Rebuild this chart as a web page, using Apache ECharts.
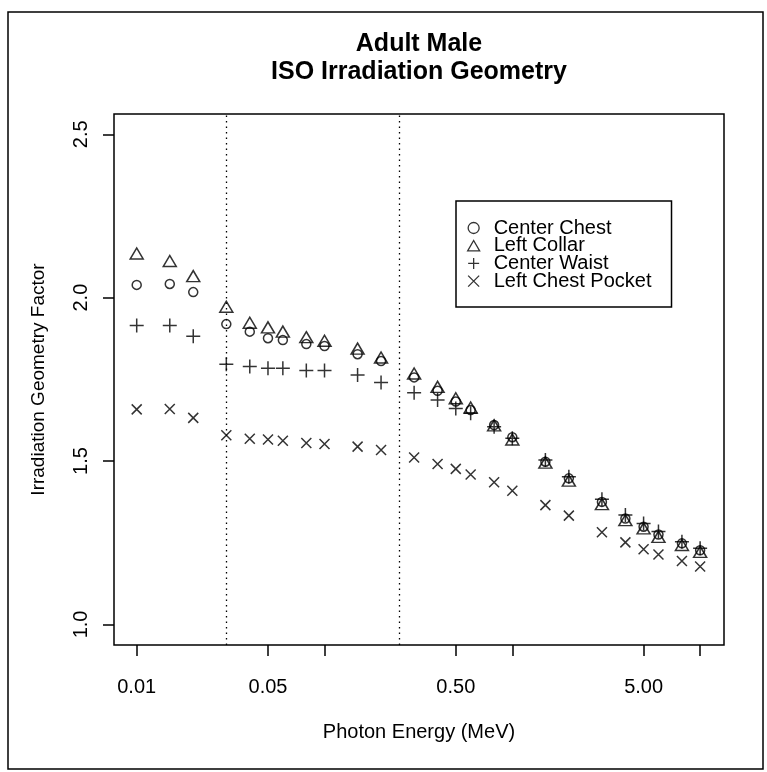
<!DOCTYPE html>
<html>
<head>
<meta charset="utf-8">
<script src="https://cdn.jsdelivr.net/npm/echarts@6/dist/echarts.min.js"></script>
<style>
  html, body { margin: 0; padding: 0; background: #fff; }
  #chart { width: 767px; height: 772px; }
</style>
</head>
<body>
<div id="chart"></div>
<script>
// Photon energies (MeV) and irradiation geometry factors per dosimeter location
const energy = [0.01, 0.015, 0.02, 0.03, 0.04, 0.05, 0.06, 0.08, 0.1, 0.15, 0.2, 0.3, 0.4,
                0.5, 0.6, 0.8, 1, 1.5, 2, 3, 4, 5, 6, 8, 10];
const centerChest = [2.039, 2.042, 2.017, 1.919, 1.896, 1.876, 1.870, 1.858, 1.852, 1.827, 1.806,
                     1.756, 1.715, 1.682, 1.656, 1.610, 1.573, 1.498, 1.447, 1.375, 1.324, 1.299,
                     1.275, 1.248, 1.227];
const leftCollar = [2.135, 2.112, 2.066, 1.972, 1.923, 1.909, 1.896, 1.879, 1.868, 1.844, 1.817,
                    1.768, 1.727, 1.692, 1.664, 1.609, 1.566, 1.495, 1.440, 1.368, 1.319, 1.294,
                    1.268, 1.243, 1.222];
const centerWaist = [1.915, 1.915, 1.882, 1.796, 1.789, 1.784, 1.784, 1.777, 1.777, 1.763, 1.740,
                     1.709, 1.687, 1.661, 1.646, 1.605, 1.570, 1.503, 1.452, 1.383, 1.335, 1.309,
                     1.284, 1.253, 1.233];
const leftChestPocket = [1.658, 1.659, 1.632, 1.579, 1.568, 1.566, 1.562, 1.555, 1.552, 1.544, 1.534,
                         1.511, 1.491, 1.476, 1.459, 1.435, 1.409, 1.365, 1.333, 1.282, 1.251, 1.230,
                         1.214, 1.194, 1.177];

const seriesNames = ['Center Chest', 'Left Collar', 'Center Waist', 'Left Chest Pocket'];

// Axis ticks and labels
const xTickValues = [0.01, 0.05, 0.1, 0.5, 1, 5, 10];
const xLabelValues = [0.01, 0.05, 0.5, 5];
const yTickValues = [1.0, 1.5, 2.0, 2.5];
// Reference energies marked with dotted vertical lines
const dividerEnergies = [0.03, 0.25];

const FONT = '"Liberation Sans", Arial, sans-serif';

// Open plotting symbols
const SYM_TRIANGLE = 'path://M5,0 L10,8.66 L0,8.66 Z';
const SYM_PLUS = 'path://M5,0 L5,10 M0,5 L10,5';
const SYM_CROSS = 'path://M0,0 L10,10 M10,0 L0,10';

function pairs(ys) {
  return energy.map((x, i) => [x, ys[i]]);
}

const openStyle = { color: 'transparent', borderColor: '#000', borderWidth: 1.5 };

const chart = echarts.init(document.getElementById('chart'), null, { renderer: 'canvas' });

chart.setOption({
  animation: false,
  backgroundColor: '#fff',
  textStyle: { fontFamily: FONT, color: '#000' },
  graphic: [
    {
      type: 'rect', silent: true,
      shape: { x: 8, y: 12, width: 755, height: 757 },
      style: { fill: 'none', stroke: '#000', lineWidth: 1.5 }
    },
    {
      type: 'text', silent: true, x: 419, y: 44,
      style: { text: 'Adult Male', font: 'bold 25px ' + FONT, fill: '#000', align: 'center', verticalAlign: 'middle' }
    },
    {
      type: 'text', silent: true, x: 419, y: 72,
      style: { text: 'ISO Irradiation Geometry', font: 'bold 25px ' + FONT, fill: '#000', align: 'center', verticalAlign: 'middle' }
    }
  ],
  grid: {
    left: 114, top: 114, width: 610, height: 531,
    show: true, borderColor: '#000', borderWidth: 1.5, backgroundColor: 'transparent'
  },
  legend: {
    orient: 'vertical',
    left: 456, top: 201,
    data: seriesNames,
    itemWidth: 12, itemHeight: 11,
    itemGap: -2.3,
    padding: [17, 20, 16, 11],
    borderColor: '#000', borderWidth: 1.5,
    selectedMode: false,
    itemStyle: { color: 'transparent', borderColor: '#000', borderWidth: 1.3 },
    textStyle: { fontFamily: FONT, fontSize: 20, color: '#000', padding: [0, 0, 0, 9] }
  },
  xAxis: {
    type: 'log', logBase: 10,
    min: 0.00757, max: 13.4,
    name: 'Photon Energy (MeV)',
    nameLocation: 'middle', nameGap: 77,
    nameTextStyle: { fontFamily: FONT, fontSize: 20, color: '#000' },
    axisLine: { show: false },
    splitLine: { show: false },
    minorTick: { show: false },
    axisTick: { show: true, inside: false, length: 11, customValues: xTickValues, lineStyle: { color: '#000', width: 1.5 } },
    axisLabel: {
      customValues: xLabelValues, margin: 32,
      fontFamily: FONT, fontSize: 20, color: '#000',
      formatter: v => Number(v).toFixed(2)
    }
  },
  yAxis: {
    type: 'value',
    min: 0.937, max: 2.562,
    name: 'Irradiation Geometry Factor',
    nameLocation: 'middle', nameGap: 66, nameRotate: 90,
    nameTextStyle: { fontFamily: FONT, fontSize: 19, color: '#000' },
    axisLine: { show: false },
    splitLine: { show: false },
    axisTick: { show: true, inside: false, length: 11, customValues: yTickValues, lineStyle: { color: '#000', width: 1.5 } },
    axisLabel: {
      customValues: yTickValues, margin: 23, rotate: 90,
      fontFamily: FONT, fontSize: 20, color: '#000',
      formatter: v => Number(v).toFixed(1)
    }
  },
  series: [
    {
      name: seriesNames[0], type: 'scatter', silent: true,
      symbol: 'circle', symbolSize: 9,
      itemStyle: openStyle,
      data: pairs(centerChest),
      markLine: {
        silent: true, symbol: 'none', animation: false,
        label: { show: false },
        lineStyle: { color: '#000', width: 1.3, type: [1.5, 4] },
        data: dividerEnergies.map(v => ({ xAxis: v }))
      }
    },
    {
      name: seriesNames[1], type: 'scatter', silent: true,
      symbol: SYM_TRIANGLE, symbolSize: [13, 11],
      itemStyle: openStyle,
      data: pairs(leftCollar)
    },
    {
      name: seriesNames[2], type: 'scatter', silent: true,
      symbol: SYM_PLUS, symbolSize: 14,
      itemStyle: openStyle,
      data: pairs(centerWaist)
    },
    {
      name: seriesNames[3], type: 'scatter', silent: true,
      symbol: SYM_CROSS, symbolSize: 10,
      itemStyle: openStyle,
      data: pairs(leftChestPocket)
    }
  ]
});
</script>
</body>
</html>
